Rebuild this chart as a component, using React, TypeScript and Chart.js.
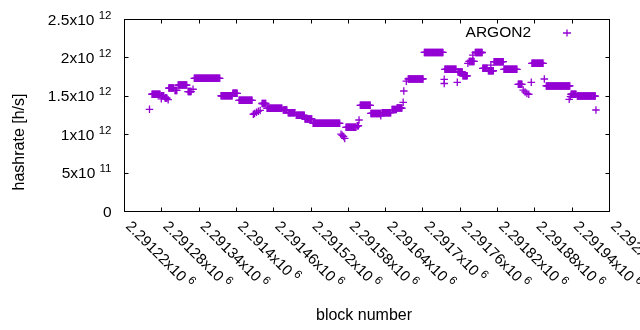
import React, { useEffect, useRef } from "react";
import { Chart, registerables } from "chart.js";

Chart.register(...registerables);

// Runs of constant hashrate (one point per block), values in units of 1e12 h/s
const runStart = [
  2291261, 2291265, 2291280, 2291280, 2291286, 2291291, 2291292, 2291302, 2291307, 2291323,
  2291331, 2291333, 2291376, 2291395, 2291405, 2291428, 2291430, 2291433, 2291436, 2291439,
  2291442, 2291450, 2291476, 2291484, 2291497, 2291511, 2291524, 2291569, 2291571, 2291573,
  2291575, 2291577, 2291595, 2291598, 2291600, 2291617, 2291633, 2291635, 2291651, 2291659,
  2291669, 2291670, 2291674, 2291677, 2291703, 2291735, 2291735, 2291736, 2291756, 2291757,
  2291765, 2291773, 2291775, 2291781, 2291785, 2291797, 2291806, 2291810, 2291815, 2291831,
  2291854, 2291862, 2291865, 2291868, 2291871, 2291875, 2291876, 2291896, 2291899, 2291936,
  2291938, 2291939, 2291949, 2291979,
];
const runEnd = [
  2291261, 2291278, 2291284, 2291280, 2291289, 2291291, 2291300, 2291305, 2291321, 2291328,
  2291331, 2291374, 2291394, 2291402, 2291426, 2291428, 2291430, 2291433, 2291436, 2291439,
  2291448, 2291474, 2291482, 2291495, 2291510, 2291522, 2291567, 2291569, 2291571, 2291573,
  2291575, 2291593, 2291597, 2291598, 2291616, 2291633, 2291633, 2291649, 2291658, 2291667,
  2291669, 2291670, 2291674, 2291701, 2291733, 2291735, 2291735, 2291754, 2291756, 2291764,
  2291772, 2291773, 2291783, 2291781, 2291796, 2291804, 2291814, 2291810, 2291830, 2291852,
  2291860, 2291862, 2291865, 2291868, 2291871, 2291875, 2291894, 2291896, 2291937, 2291936,
  2291938, 2291947, 2291978, 2291979,
];
const runValue = [
  1.324, 1.52, 1.5, 1.46, 1.47, 1.45, 1.6, 1.57, 1.64, 1.555,
  1.585, 1.728, 1.5, 1.532, 1.441, 1.26, 1.27, 1.285, 1.3, 1.31,
  1.4, 1.337, 1.315, 1.28, 1.246, 1.198, 1.142, 1.0, 0.985, 0.97,
  0.945, 1.09, 1.11, 1.185, 1.376, 1.27, 1.24, 1.28, 1.32, 1.34,
  1.415, 1.5625, 1.69, 1.72, 2.065, 1.715, 1.66, 1.845, 1.676, 1.81,
  1.76, 1.923, 1.947, 2.03, 2.064, 1.858, 1.826, 1.9, 1.944, 1.845,
  1.65, 1.575, 1.55, 1.53, 1.52, 1.676, 1.923, 1.719, 1.628, 1.454,
  1.49, 1.52, 1.497, 1.315,
];

const xTicks = [
  2291220, 2291280, 2291340, 2291400, 2291460, 2291520, 2291580,
  2291640, 2291700, 2291760, 2291820, 2291880, 2291940, 2292000,
];
const xTickMantissa = [
  "2.29122", "2.29128", "2.29134", "2.2914", "2.29146", "2.29152", "2.29158",
  "2.29164", "2.2917", "2.29176", "2.29182", "2.29188", "2.29194", "2.292",
];
const xTickExponent = "6";
const yTicks = [0, 5e11, 1e12, 1.5e12, 2e12, 2.5e12];
const yTickMantissa = ["0", "5x10", "1x10", "1.5x10", "2x10", "2.5x10"];
const yTickExponent = ["", "11", "12", "12", "12", "12"];

const seriesName = "ARGON2";
const xTitle = "block number";
const yTitle = "hashrate [h/s]";
const COLOR = "#9400d3";
const FONT = "'Liberation Sans', Arial, sans-serif";

const decor = {
  id: "gnuplotDecor",
  afterDraw(chart: any) {
    const { ctx, chartArea: a } = chart;
    const xs = chart.scales.x;
    const ys = chart.scales.y;
    const L = Math.round(a.left) + 0.5;
    const R = Math.round(a.right) + 0.5;
    const T = Math.round(a.top) + 0.5;
    const B = Math.round(a.bottom) + 0.5;
    ctx.save();
    ctx.strokeStyle = "#000";
    ctx.lineWidth = 1;
    ctx.beginPath();
    const tl = 4;
    xTicks.forEach((v) => {
      const px = Math.round(xs.getPixelForValue(v)) + 0.5;
      ctx.moveTo(px, B);
      ctx.lineTo(px, B - tl);
      ctx.moveTo(px, T);
      ctx.lineTo(px, T + tl);
    });
    yTicks.forEach((v) => {
      const py = Math.round(ys.getPixelForValue(v)) + 0.5;
      ctx.moveTo(L, py);
      ctx.lineTo(L + tl, py);
      ctx.moveTo(R, py);
      ctx.lineTo(R - tl, py);
    });
    ctx.stroke();
    ctx.strokeRect(L, T, R - L, B - T);

    ctx.fillStyle = "#000";
    const mainFont = "16px " + FONT;
    const yTickFont = "15.5px " + FONT;
    const xTickFont = "15px " + FONT;
    const supFont = "11.5px " + FONT;

    // y tick labels
    yTicks.forEach((v, i) => {
      const py = ys.getPixelForValue(v);
      const rightX = 111.5;
      ctx.textBaseline = "alphabetic";
      ctx.textAlign = "left";
      ctx.font = supFont;
      const e = yTickExponent[i];
      const ew = e ? ctx.measureText(e).width : 0;
      ctx.font = yTickFont;
      const sw = e ? ctx.measureText(" ").width : 0;
      const mw = ctx.measureText(yTickMantissa[i]).width;
      const x0 = rightX - ew - sw - mw;
      ctx.fillText(yTickMantissa[i], x0, py + 5.5);
      if (e) {
        ctx.font = supFont;
        ctx.fillText(e, x0 + mw + sw, py - 0.5);
      }
    });

    // x tick labels, rotated
    xTicks.forEach((v, i) => {
      const px = xs.getPixelForValue(v);
      ctx.save();
      ctx.translate(px + 1, a.bottom + 16);
      ctx.rotate(Math.PI / 4);
      ctx.textAlign = "left";
      ctx.textBaseline = "alphabetic";
      ctx.font = xTickFont;
      const m = xTickMantissa[i] + "x10";
      const mw = ctx.measureText(m).width;
      ctx.fillText(m, 0, 0);
      ctx.font = supFont;
      ctx.fillText(xTickExponent, mw + 3.5, -6);
      ctx.restore();
    });

    // axis titles
    ctx.font = mainFont;
    ctx.textAlign = "center";
    ctx.textBaseline = "alphabetic";
    ctx.fillText(xTitle, 364, 320);
    ctx.save();
    ctx.translate(24, 142);
    ctx.rotate(-Math.PI / 2);
    ctx.fillText(yTitle, 0, 0);
    ctx.restore();

    // legend
    ctx.textAlign = "right";
    ctx.font = "15.5px " + FONT;
    ctx.fillText(seriesName, 531, 37);
    ctx.strokeStyle = COLOR;
    ctx.lineWidth = 1.3;
    ctx.beginPath();
    ctx.moveTo(563, 33);
    ctx.lineTo(571, 33);
    ctx.moveTo(567, 29.5);
    ctx.lineTo(567, 36.5);
    ctx.stroke();
    ctx.restore();
  },
};

export default function App() {
  const ref = useRef<HTMLCanvasElement>(null);
  useEffect(() => {
    if (!ref.current) return;
    const points: { x: number; y: number }[] = [];
    runStart.forEach((s, i) => {
      for (let b = s; b <= runEnd[i]; b++) points.push({ x: b, y: runValue[i] * 1e12 });
    });
    const chart = new Chart(ref.current, {
      type: "scatter",
      data: {
        datasets: [
          {
            label: seriesName,
            data: points,
            pointStyle: "cross",
            pointRadius: 3.75,
            pointBorderWidth: 1.3,
            borderColor: COLOR,
            backgroundColor: COLOR,
          },
        ],
      },
      options: {
        responsive: false,
        animation: false,
        devicePixelRatio: 1,
        layout: { padding: { top: 19, right: 31, left: 0, bottom: 0 } },
        plugins: { legend: { display: false }, tooltip: { enabled: false } },
        scales: {
          x: {
            type: "linear",
            min: 2291220,
            max: 2292000,
            ticks: { display: false },
            grid: { display: false },
            border: { display: false },
            afterFit: (s: any) => {
              s.height = 119;
            },
          },
          y: {
            type: "linear",
            min: 0,
            max: 2.5e12,
            ticks: { display: false },
            grid: { display: false },
            border: { display: false },
            afterFit: (s: any) => {
              s.width = 124;
            },
          },
        },
      },
      plugins: [decor],
    });
    return () => chart.destroy();
  }, []);
  return (
    <div style={{ position: "absolute", left: 0, top: 0, width: 640, height: 330, background: "#fff" }}>
      <canvas ref={ref} width={640} height={330} />
    </div>
  );
}
